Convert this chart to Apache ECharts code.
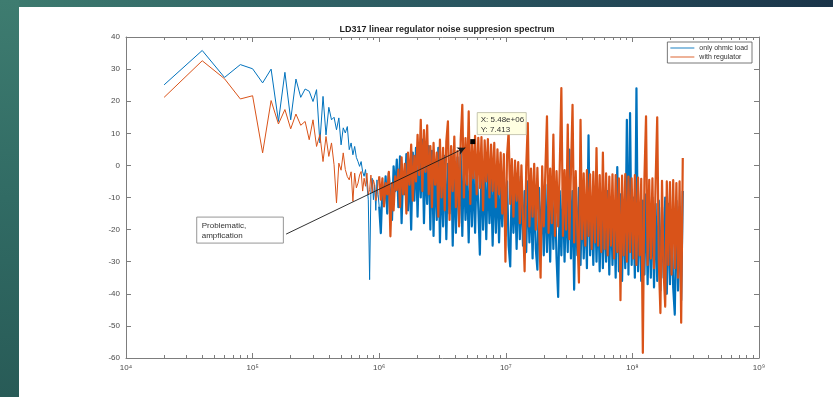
<!DOCTYPE html>
<html>
<head>
<meta charset="utf-8">
<script src="https://cdn.jsdelivr.net/npm/echarts@6/dist/echarts.min.js"></script>
<style>
html,body{margin:0;padding:0;width:833px;height:397px;overflow:hidden;background:#fff;}
#topband{position:absolute;left:0;top:0;width:833px;height:7px;background:linear-gradient(90deg,#3d7b6f 0%,#2a5660 55%,#1a3449 100%);}
#leftband{position:absolute;left:0;top:0;width:19px;height:397px;background:linear-gradient(180deg,#3e7c70 0%,#316b64 50%,#285b57 100%);}
#chart{position:absolute;left:0;top:0;width:833px;height:397px;}
</style>
</head>
<body>
<div id="topband"></div>
<div id="leftband"></div>
<div id="chart"></div>
<script>
// ---------- DATA ----------
const titleText = 'LD317 linear regulator noise suppresion spectrum';
const seriesNames = ['only ohmic load', 'with regulator'];
const binStep = 2e4; // FFT bin spacing (Hz): low-frequency points at 2e4, 4e4, ...

// low-frequency bins k = 1..50 (2e4 .. 1e6 Hz), dB
const blueLow = [25.1, 35.8, 27.4, 31.4, 30.1, 25.7, 30.0, 13.7, 29.0, 14.2,
  26.9, 21.2, 23.8, 23.1, 19.9, 23.6, 7.0, 21.5, 9.5, 18.1,
  14.2, 15.0, 11.1, 14.8, 6.4, 11.7, 10.1, 12.1, 4.9, 7.0,
  3.3, 5.9, 2.5, 1.2, -0.3, 1.2, -2.0, -3.4, -1.3, -6.0,
  -10.7, -35.6, -7.6, -4.0, -10.7, -6.0, -14.0, -4.5, -9.0, -12.8];
const orangeLow = [21.2, 32.6, 27.0, 20.7, 21.7, 3.9, 20.2, 12.9, 17.4, 11.4,
  16.0, 12.5, 13.7, 8.0, 14.2, 5.9, 9.6, 1.2, 9.0, 2.8,
  7.0, 0.2, -11.7, 0.7, -1.5, 3.9, -1.3, -3.5, -4.5, -2.0,
  -11.2, -2.4, -7.0, -5.5, -3.0, -1.9, -8.0, -4.0, -6.5, -2.4,
  -9.0, -7.6, -3.0, -8.5, -4.5, -6.0, -11.0, -9.7, -5.0, -3.4];

// dense noise region, sampled on a log grid from denseStart to denseEnd (Hz), dB
const denseStart = 1.03e6;
const denseEnd = 2.5e8;
const blueDense = [
  -21.1, -6.5, -12, -3.4, -15, -2.4, -10, -17, -0.3, -8,
  1.8, -13, 2.8, -18, -2, -9, 3.5, -14, 0, -20,
  4, -11, 5.5, -16, 3, -10, 8, -18, 2, -12,
  6, -20, 4.5, -22, 1, -17, 5.5, -24, -2, -19,
  3, -23, 0.5, -15, 5, -25, -1, -21, 2.5, -18,
  4, -22, 1.5, -17, -3, -24, 1.2, -19, -1, -21,
  0.8, -13, -27.8, 1, -20, -2, -23, 0, -18, -4,
  -25, -1, -21, -3, -24, -6, -19, -2.5, -22, -5,
  -25, -31.5, -4, -21, -7, -26, -3.5, -23, -6, -25,
  -8, -27, -5, -24, -9, -29, -6, -26, -32.5, -7,
  -25, -10, -28, -6, -27, -8, -30, -7, -26, -9,
  -29, -41, -8, -28, -7, -30, -9, -27, 4.9, -29,
  -8, -38.7, -10, -28, -7, -31, -9, -29, -11, -32,
  9.4, -28, -10, -31, -8, -30, -12, -33, -9, -32,
  -11, -30, -8, -34, -10, -31, -12, -35, -0.5, -33,
  -9, -36, -11, -32, 14.2, -34, 16.3, -31, -10, -35,
  24, -33, -12, -36, -11, -34, -9, -37, -13, -35,
  -10, -38, -12, -36, -11, -39, -13, -35, -10, -40,
  -12, -37, -14, -38, -46.5, -11, -39, -13, -42, -8];
const orangeDense = [
  -10.7, -4, -12.8, -5.5, -9, -2, -22.1, -5.5, -14, -3.4,
  -7.6, -1.3, -13, 2.5, -9, 0.5, -15, 4, -6, 6.5,
  -11, 3, -5, 9.5, -3, 14.2, -8, 11, -2, 12.5,
  -9, 6, -13, 7, -6, 4, -16, 8, -10, 5.5,
  -14, 7.5, 13.7, -17, 6, -8, 9, -13, 4.5, -19,
  8, 18.9, -10, 8.5, -6, 16.8, -12, 7.4, -4, 9.2,
  -9, 8.6, -7, 8.8, -14, 7.8, -5, 8.2, -10, 6.5,
  -8, 7, -13, 5, -9, 4, -15, 3.5, -30, 3,
  10.5, -12, 2, -16, 1.5, -11, 1, -18, 0, -17,
  -33, -0.5, 13.2, -19, -1, -16, 0.5, -20, -0.8, -18,
  -35, -0.3, -19, -1.5, 15.3, -21, -1, -18, 9.6, -22,
  -1.8, -19, -0.5, 24.1, -22, -1.5, -20, 12.7, -23, -2,
  18.9, -24, -1.8, -21, -36.5, 14.2, -23, -2.5, -25, -1.5,
  -22, -2.8, -26, -2, -24, 5.4, -25, -3, -27, 4,
  -26, -2.5, -28, -3.5, -25, -2.8, -29, -3, -27, -4,
  -42, -3.2, -28, -2.7, -30, -3.5, -27, -4, -29, -3,
  -31, -3.8, -28, -4.2, -58.4, -4, 15.3, -31, -4.5, -29,
  -4, -32, -5, 15, -30, -46, -4.8, -33, -44, -5,
  -31, -5.2, -34, -4.6, -32, -5.5, -35, -5, -49, 2.3];

// axis ticks
const xDecades = [1e4, 1e5, 1e6, 1e7, 1e8, 1e9];
const xMinorMult = [2, 3, 4, 5, 6, 7, 8, 9];
const yTicks = [-60, -50, -40, -30, -20, -10, 0, 10, 20, 30, 40];

// annotations (data coordinates)
const dataTip = [5.48e6, 7.413];
const arrowTail = [1.84e5, -21.4];
const arrowHead = [4.79e6, 5.5];
const noteBoxFrom = [3.62e4, -16.1];
const noteBoxTo = [1.75e5, -24.2];
const noteText = 'Problematic,\nampfication';

// ---------- BUILD ----------
const blueColor = '#0072BD';
const orangeColor = '#D95319';
const FONT = '"Liberation Sans", Arial, Helvetica, sans-serif';

const lowData = arr => arr.map((v, k) => [(k + 1) * binStep, v]);
const denseFreq = i => denseStart * Math.pow(denseEnd / denseStart, i / (blueDense.length - 1));
const denseData = (arr, low) => [[low.length * binStep, low[low.length - 1]]].concat(arr.map((v, i) => [denseFreq(i), v]));

const xMinors = [];
for (let d = 0; d < xDecades.length - 1; d++) xMinorMult.forEach(m => xMinors.push(xDecades[d] * m));
const supDigits = {4: '\u2074', 5: '\u2075', 6: '\u2076', 7: '\u2077', 8: '\u2078', 9: '\u2079'};

const axisGray = '#7d7d7d';
const labelGray = '#4a4a4a';
const lineIcon = 'path://M0,0M24,8M0,3.55L24,3.55L24,4.45L0,4.45Z';

function xAx(pos, values, len, showLine, showLabel) {
  return {
    type: 'log', logBase: 10, min: xDecades[0], max: xDecades[xDecades.length - 1],
    position: pos, gridIndex: 0,
    axisLine: {show: showLine, onZero: false, lineStyle: {color: axisGray, width: 1}},
    axisTick: {show: true, inside: true, length: len, customValues: values, lineStyle: {color: axisGray, width: 1}},
    axisLabel: {show: showLabel, customValues: values, margin: 6, color: labelGray, fontSize: 8, fontFamily: FONT,
      formatter: v => '10' + supDigits[Math.round(Math.log10(v))]},
    splitLine: {show: false}, minorTick: {show: false}, minorSplitLine: {show: false}
  };
}
function yAx(pos, showLabel) {
  return {
    type: 'value', min: yTicks[0], max: yTicks[yTicks.length - 1], interval: 10, position: pos, gridIndex: 0,
    axisLine: {show: true, onZero: false, lineStyle: {color: axisGray, width: 1}},
    axisTick: {show: true, inside: true, length: 5, lineStyle: {color: axisGray, width: 1}},
    axisLabel: {show: showLabel, margin: 6, color: labelGray, fontSize: 8, fontFamily: FONT},
    splitLine: {show: false}
  };
}

const chart = echarts.init(document.getElementById('chart'), null, {renderer: 'canvas'});
const option = {
  animation: false,
  backgroundColor: 'transparent',
  title: {
    text: titleText, left: 442, top: 20, textAlign: 'center',
    textStyle: {fontSize: 9, fontWeight: 'bold', color: '#1f1f1f', fontFamily: FONT}
  },
  legend: {
    data: seriesNames.map(n => ({name: n, icon: lineIcon})),
    orient: 'vertical', right: 81, top: 42, itemGap: 1,
    padding: [2, 4, 2, 3], borderColor: '#555', borderWidth: 0.8, backgroundColor: '#fff',
    itemWidth: 24, itemHeight: 8, selectedMode: false,
    textStyle: {fontSize: 7, color: '#333', fontFamily: FONT}
  },
  grid: {left: 126, right: 74, top: 37, bottom: 39, containLabel: false},
  xAxis: [
    xAx('bottom', xDecades, 5, true, true),
    xAx('bottom', xMinors, 3, false, false),
    xAx('top', xDecades, 5, true, false),
    xAx('top', xMinors, 3, false, false)
  ],
  yAxis: [yAx('left', true), yAx('right', false)],
  series: [
    {name: seriesNames[0], type: 'line', data: lowData(blueLow), showSymbol: false, symbol: 'none',
      lineStyle: {color: blueColor, width: 1}, itemStyle: {color: blueColor}, z: 2},
    {name: seriesNames[0], type: 'line', data: denseData(blueDense, blueLow), showSymbol: false, symbol: 'none',
      sampling: null, lineStyle: {color: blueColor, width: 2.2, join: 'round'}, itemStyle: {color: blueColor}, z: 2},
    {name: seriesNames[1], type: 'line', data: lowData(orangeLow), showSymbol: false, symbol: 'none',
      lineStyle: {color: orangeColor, width: 1}, itemStyle: {color: orangeColor}, z: 3},
    {name: seriesNames[1], type: 'line', data: denseData(orangeDense, orangeLow), showSymbol: false, symbol: 'none',
      sampling: null, lineStyle: {color: orangeColor, width: 2.2, join: 'round'}, itemStyle: {color: orangeColor}, z: 3,
      markPoint: {
        silent: true, symbol: 'rect', symbolSize: 5, itemStyle: {color: '#000'}, label: {show: false},
        data: [{coord: dataTip}], z: 10
      },
      markLine: {
        silent: true, symbol: ['none', 'arrow'], symbolSize: [6, 8], label: {show: false},
        lineStyle: {color: '#1a1a1a', width: 0.9, type: 'solid'},
        data: [[{coord: arrowTail}, {coord: arrowHead}]], z: 10
      }
    }
  ]
};
chart.setOption(option);

// annotation boxes positioned from data coordinates
const pTip = chart.convertToPixel({xAxisIndex: 0, yAxisIndex: 0}, dataTip);
const pBoxA = chart.convertToPixel({xAxisIndex: 0, yAxisIndex: 0}, noteBoxFrom);
const pBoxB = chart.convertToPixel({xAxisIndex: 0, yAxisIndex: 0}, noteBoxTo);
const xTxt = dataTip[0].toExponential(2).replace(/e\+(\d)$/, 'e+0$1');
chart.setOption({
  graphic: [
    {type: 'rect', z: 100, shape: {x: pTip[0] + 4.5, y: pTip[1] - 29, width: 49, height: 22},
      style: {fill: '#ffffe1', stroke: '#b8b8a0', lineWidth: 0.8}},
    {type: 'text', z: 101, x: pTip[0] + 8, y: pTip[1] - 27,
      style: {text: 'X: ' + xTxt + '\nY: ' + dataTip[1], fill: '#333', font: '8px ' + FONT, lineHeight: 10}},
    {type: 'rect', z: 100, shape: {x: pBoxA[0], y: pBoxA[1], width: pBoxB[0] - pBoxA[0], height: pBoxB[1] - pBoxA[1]},
      style: {fill: '#fff', stroke: '#8a8a8a', lineWidth: 0.9}},
    {type: 'text', z: 101, x: pBoxA[0] + 5, y: pBoxA[1] + 3.5,
      style: {text: noteText, fill: '#333', font: '8px ' + FONT, lineHeight: 10}}
  ]
});
</script>
</body>
</html>
